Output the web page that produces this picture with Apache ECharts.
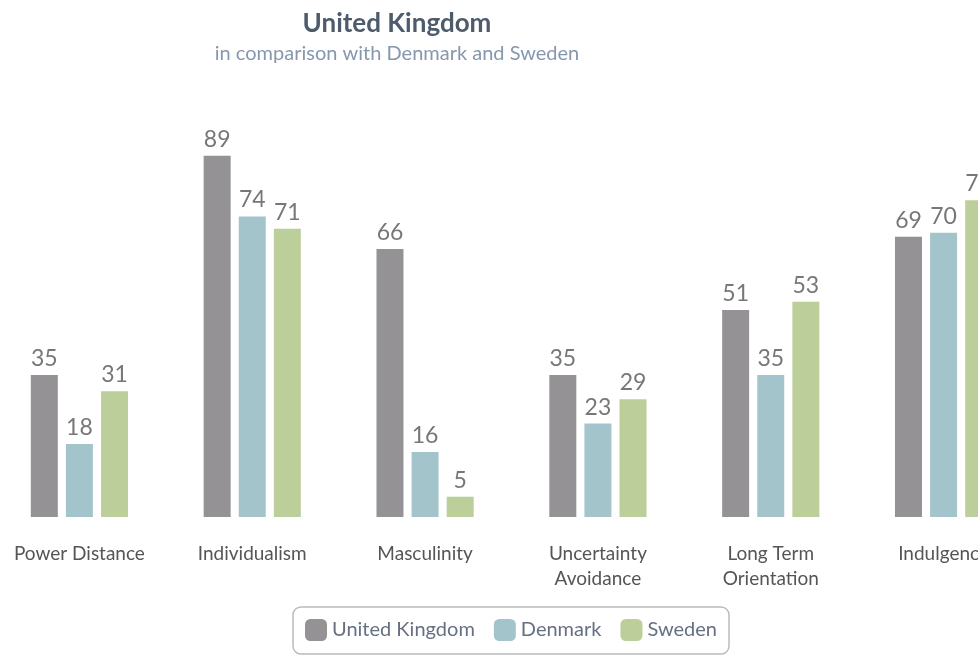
<!DOCTYPE html>
<html>
<head>
<meta charset="utf-8">
<script src="https://cdn.jsdelivr.net/npm/echarts@6/dist/echarts.min.js"></script>
<style>
  html, body { margin: 0; padding: 0; background: #fff; overflow: hidden; width: 978px; height: 657px; }
  /* 图表比窗口宽，右侧被裁掉一部分 */
  #main { position: absolute; left: -7px; top: 0; width: 1060px; height: 657px; }
</style>
</head>
<body>
<div id="main"></div>
<script>
// 数据
var categories = ['Power Distance', 'Individualism', 'Masculinity', 'Uncertainty\nAvoidance', 'Long Term\nOrientation', 'Indulgence'];
var seriesNames = ['United Kingdom', 'Denmark', 'Sweden'];
var ukValues = [35, 89, 66, 35, 51, 69];
var denmarkValues = [18, 74, 16, 23, 35, 70];
var swedenValues = [31, 71, 5, 29, 53, 78];

var colors = ['#949295', '#a4c4cc', '#bccf9b'];
var fontName = 'Lato, "Open Sans", sans-serif';

var chart = echarts.init(document.getElementById('main'));

function makeSeries(name, data, color) {
  return {
    name: name,
    type: 'bar',
    data: data,
    barWidth: 27,
    barGap: '30%',
    itemStyle: { color: color },
    label: {
      show: true,
      position: 'top',
      distance: 5,
      color: '#777',
      fontSize: 23,
      fontFamily: fontName
    }
  };
}

chart.setOption({
  animation: false,
  title: {
    text: 'United Kingdom',
    subtext: 'in comparison with Denmark and Sweden',
    left: 399,
    textAlign: 'center',
    top: 6,
    itemGap: 7,
    textStyle: { color: '#4d5b6b', fontSize: 26, fontWeight: 'bold', fontFamily: fontName },
    subtextStyle: { color: '#8797ad', fontSize: 20, fontFamily: fontName }
  },
  legend: {
    data: seriesNames,
    left: 300,
    top: 607,
    padding: [12, 12, 13, 12],
    itemWidth: 22,
    itemHeight: 22,
    itemGap: 19,
    borderColor: '#bbb',
    borderWidth: 1.5,
    borderRadius: 8,
    textStyle: { color: '#667080', fontSize: 20, fontFamily: fontName }
  },
  grid: {
    left: 0,
    width: 1037,
    top: 111,
    bottom: 140
  },
  xAxis: {
    type: 'category',
    data: categories,
    axisLine: { show: false },
    axisTick: { show: false },
    axisLabel: {
      margin: 24,
      color: '#555',
      fontSize: 19,
      lineHeight: 25,
      fontFamily: fontName,
      interval: 0
    }
  },
  yAxis: {
    type: 'value',
    min: 0,
    max: 100,
    show: false,
    splitLine: { show: false }
  },
  series: [
    makeSeries(seriesNames[0], ukValues, colors[0]),
    makeSeries(seriesNames[1], denmarkValues, colors[1]),
    makeSeries(seriesNames[2], swedenValues, colors[2])
  ]
});
</script>
</body>
</html>
